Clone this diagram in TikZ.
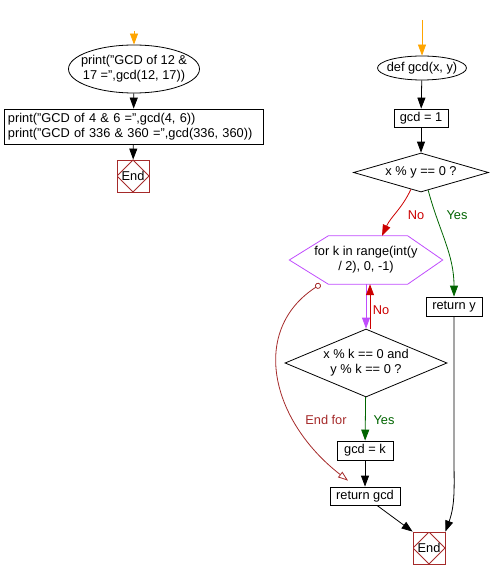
\documentclass[tikz,border=0pt]{standalone}
\usepackage{fontspec}
\setmainfont{Liberation Sans}
\usepackage{xcolor}
\usepackage{tikz}
\usetikzlibrary{shapes.geometric}
\usetikzlibrary{arrows.meta}
\definecolor{startorange}{HTML}{FFA500}
\definecolor{nored}{HTML}{CC0000}
\definecolor{yesgreen}{HTML}{006400}
\definecolor{loopviolet}{HTML}{C04CFD}
\definecolor{endred}{HTML}{A52A2A}

\begin{document}
\begin{tikzpicture}[x=1pt,y=1pt]
\tikzset{>={Triangle[width=8pt,length=11pt]}}
\tikzset{every node/.style={font=\fontsize{12.8}{15}\selectfont}}
\tikzstyle{oval}=[ellipse,draw,thick,align=center,inner xsep=-8pt,inner ysep=1pt]
\tikzstyle{box}=[rectangle,draw,thick,inner sep=0pt]
\tikzstyle{cond}=[diamond,draw,thick,align=center,inner sep=0pt]
\tikzstyle{loopbox}=[rectangle,align=center,inner sep=0pt,minimum width=153pt,minimum height=48pt]
\tikzstyle{endbox}=[rectangle,draw=endred,thick,inner sep=0pt,minimum size=32pt,
  path picture={\draw[endred,thick] (path picture bounding box.north) -- (path picture bounding box.east)
  -- (path picture bounding box.south) -- (path picture bounding box.west) -- cycle;}]

\useasboundingbox (0,0) rectangle (490,-580);

% main program
\coordinate (s1) at (134,-31);
\node[oval,minimum width=131pt,minimum height=48pt] (p1) at (134,-69) {print("GCD of 12 \&\\17 =",gcd(12, 17))};
\node[box,minimum width=259pt,minimum height=35pt,text width=251pt,inner xsep=4pt,align=left] (p2) at (133.5,-126.5)
  {print("GCD of 4 \& 6 =",gcd(4, 6))\\print("GCD of 336 \& 360 =",gcd(336, 360))};
\node[endbox] (e1) at (133,-176) {End};

\draw [->,thick,startorange] (s1) -- (p1);
\draw [->,thick] (p1) -- (p2);
\draw [->,thick] (p2) -- (e1);

% gcd function
\coordinate (s2) at (422,-20);
\node[oval,inner xsep=-4pt,minimum width=89pt,minimum height=24pt] (def) at (422,-68) {def gcd(x, y)};
\node[box,minimum width=54pt,minimum height=18pt] (init) at (421,-118) {gcd = 1};
\node[cond,aspect=3.46,minimum width=135pt,minimum height=39pt] (c1) at (421,-172.5) {x \% y == 0 ?};
\node[box,minimum width=56pt,minimum height=19pt] (rety) at (454,-306.5) {return y};
\node[loopbox] (loop) at (366,-260) {for k in range(int(y\\/ 2), 0, -1)};
\draw[loopviolet,thick] (loop.west) -- ([xshift=39pt]loop.north west) -- ([xshift=-35pt]loop.north east)
  -- (loop.east) -- ([xshift=-35pt]loop.south east) -- ([xshift=39pt]loop.south west) -- cycle;
\node[cond,aspect=2.38,minimum width=162pt,minimum height=68pt] (c2) at (366,-363) {x \% k == 0 and\\y \% k == 0 ?};
\node[box,minimum width=56pt,minimum height=19pt] (setk) at (365,-450.5) {gcd = k};
\node[box,minimum width=70pt,minimum height=18pt] (retg) at (365,-496) {return gcd};
\node[endbox] (e2) at (429,-548) {End};

\draw [->,thick,startorange] (s2) -- (def);
\draw [->,thick] (def) -- (init);
\draw [->,thick] (init) -- (c1);
\draw [->,thick,nored] (c1.-121) to [out=-115,in=65] ([xshift=16pt]loop.north);
\node[nored] at (416,-215) {No};
\draw [->,thick,yesgreen] (c1.-68) to [out=-75,in=90] (rety);
\node[yesgreen] at (457,-215) {Yes};
\draw [->,thick,loopviolet] (loop.south) -- (c2.north);
\draw [->,thick,nored] ([xshift=4pt]c2.north) -- ([xshift=4pt]loop.south);
\node[nored] at (381,-310) {No};
\draw [->,thick,yesgreen] (c2) -- (setk);
\node[yesgreen] at (384,-420) {Yes};
\draw [->,thick] (setk) -- (retg);
\draw [->,thick] ([xshift=12pt]retg.south) -- (e2.north west);
\draw [->,thick] (rety.south) -- ([yshift=-140pt]rety.south) to [out=-90,in=70] (e2.north east);
\draw [{Circle[open,length=6pt]}-{Triangle[open,length=10pt,width=7pt]},thick,endred]
  (loop.-152) .. controls (250,-330) and (270,-420) .. ([xshift=-17pt,yshift=6pt]retg.north);
\node[endred] at (326,-420) {End for};
\end{tikzpicture}
\end{document}
